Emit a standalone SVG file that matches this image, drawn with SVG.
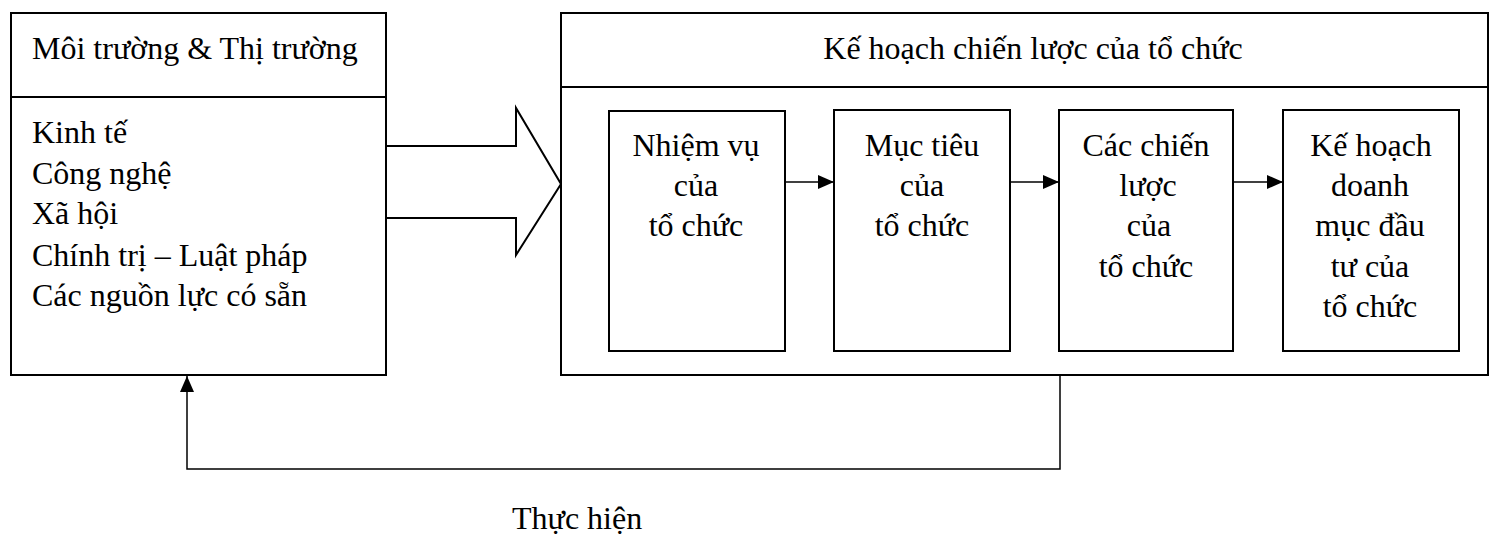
<svg xmlns="http://www.w3.org/2000/svg" width="1490" height="535" viewBox="0 0 1490 535">
<style>
.box{fill:#fff;stroke:#000;stroke-width:2}
.ln{fill:none;stroke:#000;stroke-width:2}
.cn{fill:none;stroke:#000;stroke-width:1.5}
text{font-family:"Liberation Serif","Times New Roman",serif;font-size:32px;fill:#000}
.c{text-anchor:middle}
</style>
<defs>
<marker id="ah" viewBox="0 0 10 10" refX="10" refY="5" markerWidth="10" markerHeight="10" markerUnits="userSpaceOnUse" orient="auto">
<path d="M0,0 L10,5 L0,10 Z" fill="#000"/>
</marker>
<marker id="ah2" viewBox="0 0 16 14" refX="16" refY="7" markerWidth="16" markerHeight="14" markerUnits="userSpaceOnUse" orient="auto">
<path d="M0,0 L16,7 L0,14 Z" fill="#000"/>
</marker>
</defs>
<g id="env">
<rect class="box" x="11" y="13" width="375" height="362"/>
<line class="ln" x1="11" y1="97" x2="386" y2="97"/>
<text x="32" y="59">Môi trường &amp; Thị trường</text>
<text x="32" y="143">Kinh tế</text>
<text x="32" y="184">Công nghệ</text>
<text x="32" y="224">Xã hội</text>
<text x="32" y="266">Chính trị – Luật pháp</text>
<text x="32" y="306">Các nguồn lực có sẵn</text>
</g>
<g id="plan">
<rect class="box" x="561" y="13" width="927" height="362"/>
<line class="ln" x1="561" y1="87" x2="1488" y2="87"/>
<text class="c" x="1033" y="59">Kế hoạch chiến lược của tổ chức</text>
</g>
<g id="n1">
<rect class="box" x="609" y="111" width="176" height="240"/>
<text class="c" x="696" y="156">Nhiệm vụ</text>
<text class="c" x="696" y="196">của</text>
<text class="c" x="696" y="236">tổ chức</text>
</g>
<g id="n2">
<rect class="box" x="834" y="110" width="176" height="241"/>
<text class="c" x="922" y="156">Mục tiêu</text>
<text class="c" x="922" y="196">của</text>
<text class="c" x="922" y="236">tổ chức</text>
</g>
<g id="n3">
<rect class="box" x="1059" y="110" width="174" height="241"/>
<text class="c" x="1146" y="156">Các chiến</text>
<text class="c" x="1148" y="196">lược</text>
<text class="c" x="1149" y="236">của</text>
<text class="c" x="1146" y="277">tổ chức</text>
</g>
<g id="n4">
<rect class="box" x="1283" y="110" width="176" height="241"/>
<text class="c" x="1371" y="156">Kế hoạch</text>
<text class="c" x="1370" y="196">doanh</text>
<text class="c" x="1370" y="236">mục đầu</text>
<text class="c" x="1370" y="277">tư của</text>
<text class="c" x="1370" y="317">tổ chức</text>
</g>
<g id="connectors">
<path class="ln" d="M386,146 L516,146 L516,108 L561,184 L516,255 L516,218 L386,218"/>
<line class="cn" x1="785" y1="182" x2="834" y2="182" marker-end="url(#ah2)"/>
<line class="cn" x1="1010" y1="182" x2="1059" y2="182" marker-end="url(#ah2)"/>
<line class="cn" x1="1233" y1="182" x2="1283" y2="182" marker-end="url(#ah2)"/>
<path class="cn" d="M1060,375 L1060,469 L187,469 L187,376" marker-end="url(#ah2)"/>
<text x="512" y="529">Thực hiện</text>
</g>
</svg>
